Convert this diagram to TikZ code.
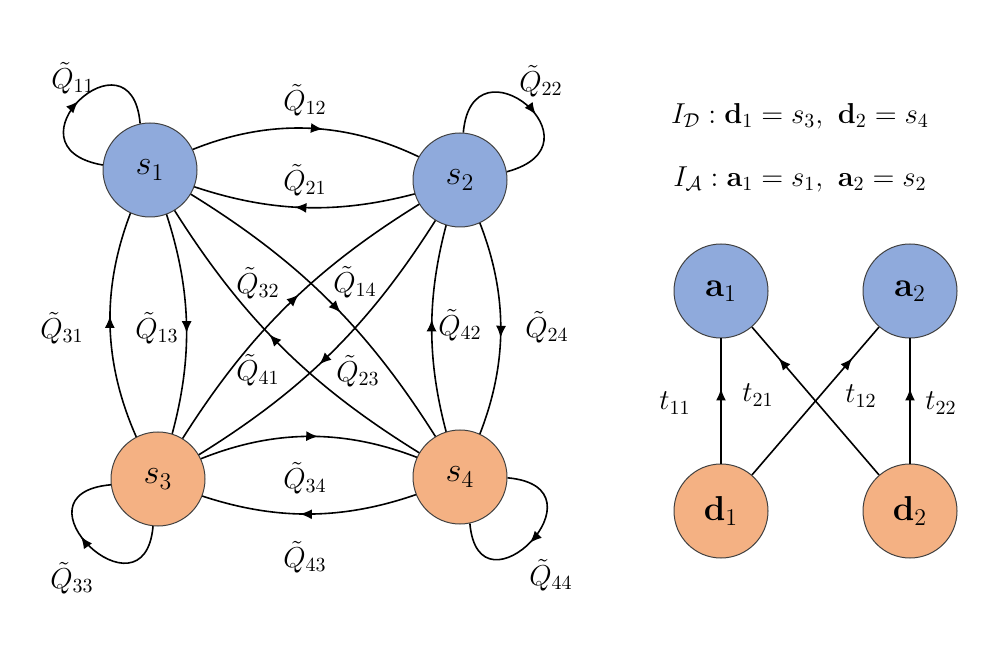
\documentclass[tikz,border=0pt]{standalone}
\usetikzlibrary{arrows.meta,decorations.markings}
\definecolor{nblue}{HTML}{8FAADC}
\definecolor{norange}{HTML}{F4B183}
\pgfdeclarelayer{bg}
\pgfsetlayers{bg,main}
\begin{document}
\begin{tikzpicture}[x=0.5pt,y=0.5pt,
  snode/.style={circle, draw=black!75, line width=0.5pt, minimum size=47pt, inner sep=0pt, font=\fontsize{18}{20}\selectfont},
  bnode/.style={snode, fill=nblue},
  onode/.style={snode, fill=norange},
  lbl/.style={inner sep=0pt, font=\fontsize{14}{16}\selectfont},
  conn/.style={line width=0.8pt, draw=black},
  midarrow/.style={postaction={decorate,decoration={markings,mark=at position #1 with {\arrow{Latex[length=6pt,width=5pt]}}}}}
]
\useasboundingbox (0,0) rectangle (1000,648);
% left graph nodes
\node[bnode] (s1) at (150,478) {$s_1$};
\node[bnode] (s2) at (460,468) {$s_2$};
\node[onode] (s3) at (158,169) {$s_3$};
\node[onode] (s4) at (460,171) {$s_4$};
% right graph nodes
\node[bnode, font=\fontsize{17}{19}\selectfont] (a1) at (721,357) {$\mathbf{a}_1$};
\node[bnode, font=\fontsize{17}{19}\selectfont] (a2) at (910,357) {$\mathbf{a}_2$};
\node[onode, font=\fontsize{17}{19}\selectfont] (d1) at (721,137) {$\mathbf{d}_1$};
\node[onode, font=\fontsize{17}{19}\selectfont] (d2) at (910,137) {$\mathbf{d}_2$};

\begin{pgfonlayer}{bg}
% pairs
\draw[conn, midarrow=0.55] (s1.center) to[bend left=31] (s2.center);
\draw[conn, midarrow=0.53] (s2.center) to[bend left=21] (s1.center);
\draw[conn, midarrow=0.53] (s1.center) to[bend left=21] (s3.center);
\draw[conn, midarrow=0.53] (s3.center) to[bend left=29] (s1.center);
\draw[conn, midarrow=0.53] (s2.center) to[bend left=28] (s4.center);
\draw[conn, midarrow=0.53] (s4.center) to[bend left=19] (s2.center);
\draw[conn, midarrow=0.53] (s3.center) to[bend left=28] (s4.center);
\draw[conn, midarrow=0.53] (s4.center) to[bend left=24] (s3.center);
% diagonals
\draw[conn, midarrow=0.54] (s1.center) to[bend left=15] (s4.center);
\draw[conn, midarrow=0.54] (s4.center) to[bend left=15] (s1.center);
\draw[conn, midarrow=0.54] (s2.center) to[bend left=15] (s3.center);
\draw[conn, midarrow=0.54] (s3.center) to[bend left=15] (s2.center);
\end{pgfonlayer}

% loops
\draw[conn, midarrow=0.5] (s1.174) .. controls +(170:105) and +(95:100) .. (s1.102);
\draw[conn, midarrow=0.57] (s2.86) .. controls +(85:100) and +(15:105) .. (s2.10);
\draw[conn, midarrow=0.57] (s3.264) .. controls +(265:100) and +(185:105) .. (s3.187);
\draw[conn, midarrow=0.52] (s4.-1) .. controls +(-5:105) and +(275:100) .. (s4.282);

% right graph edges
\draw[conn, midarrow=0.6] (d1) -- (a1);
\draw[conn, midarrow=0.79] (d2) -- (a1);
\draw[conn, midarrow=0.79] (d1) -- (a2);
\draw[conn, midarrow=0.6] (d2) -- (a2);

% labels left
\node[lbl] (q11) at (73,570) {$\tilde{Q}_{11}$};
\node[lbl] (q22) at (541,567) {$\tilde{Q}_{22}$};
\node[lbl] (q33) at (72,70) {$\tilde{Q}_{33}$};
\node[lbl] (q44) at (551,73) {$\tilde{Q}_{44}$};
\node[lbl] (q12) at (305,548) {$\tilde{Q}_{12}$};
\node[lbl] (q21) at (305,468) {$\tilde{Q}_{21}$};
\node[lbl] (q31) at (62,320) {$\tilde{Q}_{31}$};
\node[lbl] (q13) at (157,320) {$\tilde{Q}_{13}$};
\node[lbl] (q32) at (258,365) {$\tilde{Q}_{32}$};
\node[lbl] (q14) at (355,366) {$\tilde{Q}_{14}$};
\node[lbl] (q41) at (258,278) {$\tilde{Q}_{41}$};
\node[lbl] (q23) at (358,277) {$\tilde{Q}_{23}$};
\node[lbl] (q42) at (460,323) {$\tilde{Q}_{42}$};
\node[lbl] (q24) at (547,321) {$\tilde{Q}_{24}$};
\node[lbl] (q34) at (305,170) {$\tilde{Q}_{34}$};
\node[lbl] (q43) at (305,91) {$\tilde{Q}_{43}$};

% right labels
\node[lbl, font=\fontsize{14.8}{17}\selectfont] (eq1) at (800,532) {$I_{\mathcal{D}}: \mathbf{d}_1 = s_3,\ \mathbf{d}_2 = s_4$};
\node[lbl, font=\fontsize{14.8}{17}\selectfont] (eq2) at (800,469) {$I_{\mathcal{A}}: \mathbf{a}_1 = s_1,\ \mathbf{a}_2 = s_2$};
\node[lbl] (t11) at (675,245) {$t_{11}$};
\node[lbl] (t21) at (758,253) {$t_{21}$};
\node[lbl] (t12) at (861,252) {$t_{12}$};
\node[lbl] (t22) at (941,245) {$t_{22}$};
\end{tikzpicture}
\end{document}
